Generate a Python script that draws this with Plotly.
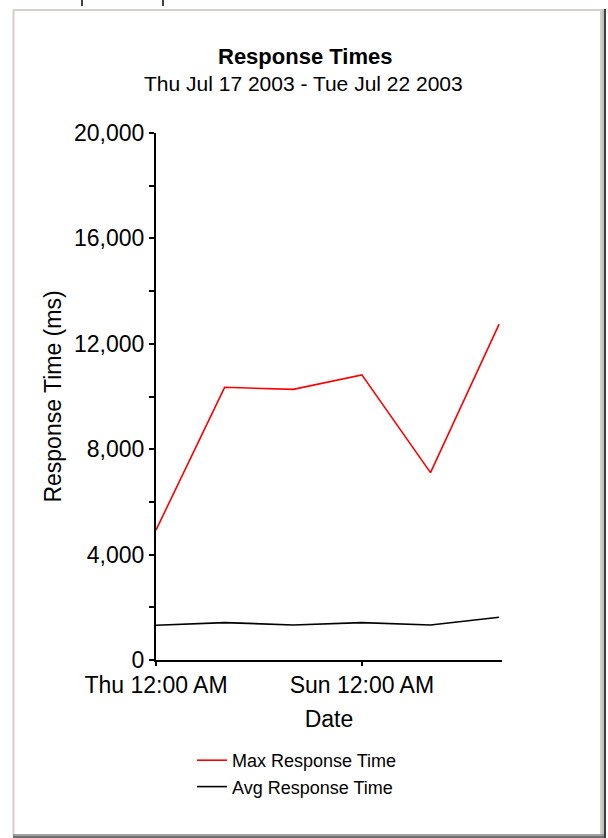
import plotly.graph_objects as go

# ---- data ----
dates = ["2003-07-17", "2003-07-18", "2003-07-19", "2003-07-20", "2003-07-21", "2003-07-22"]
max_response = [4930, 10350, 10270, 10820, 7110, 12750]
avg_response = [1320, 1420, 1330, 1420, 1330, 1620]
x_tickvals = ["2003-07-17", "2003-07-20"]
x_range = ["2003-07-17 00:00", "2003-07-22 01:00"]
y_range = [0, 20000]

title_text = "Response Times"
subtitle_text = "Thu Jul 17 2003 - Tue Jul 22 2003"

W, H = 608, 838
FONT = "Liberation Sans, Arial, sans-serif"


def px(x):
    return x / W


def py(y):
    return 1 - y / H


fig = go.Figure()
fig.add_trace(go.Scatter(x=dates, y=max_response, mode="lines", name="Max Response Time",
                         line=dict(color="#ff0000", width=1.6)))
fig.add_trace(go.Scatter(x=dates, y=avg_response, mode="lines", name="Avg Response Time",
                         line=dict(color="#000000", width=1.6)))

xd = [px(156), px(502)]
yd = [py(660), py(133)]

axis_common = dict(showgrid=False, zeroline=False, automargin=False)

fig.update_layout(
    template="none",
    width=W, height=H,
    margin=dict(l=0, r=0, t=0, b=0),
    paper_bgcolor="white", plot_bgcolor="white",
    font=dict(family=FONT, color="#000000"),
    xaxis=dict(**axis_common, domain=xd, type="date", range=x_range,
               tickvals=x_tickvals, tickformat="%a %I:%M %p",
               showline=True, linecolor="#000000", linewidth=1.5,
               ticks="outside", ticklen=4, tickwidth=1.5, tickcolor="#000000",
               tickfont=dict(size=23, family=FONT, color="#000000"),
               title=dict(text="Date", font=dict(size=23, family=FONT), standoff=14)),
    yaxis=dict(**axis_common, domain=yd, range=y_range, dtick=4000, tickformat=",d",
               showline=True, linecolor="#000000", linewidth=2,
               ticks="outside", ticklen=5, tickwidth=1.5, tickcolor="#000000",
               minor=dict(dtick=2000, ticks="outside", ticklen=5, tickwidth=1.5, tickcolor="#000000"),
               tickfont=dict(size=23, family=FONT, color="#000000"),
               title=dict(text="Response Time (ms)", font=dict(size=23, family=FONT), standoff=6)),
    yaxis2=dict(**axis_common, overlaying="y", anchor="x", range=y_range, dtick=2000,
                showticklabels=False, showline=False,
                ticks="inside", ticklen=5, tickwidth=1.5, tickcolor="#000000"),
    xaxis2=dict(**axis_common, overlaying="x", anchor="y", type="date", range=x_range,
                tickvals=x_tickvals, showticklabels=False, showline=False,
                ticks="inside", ticklen=4, tickwidth=1.5, tickcolor="#000000"),
    legend=dict(x=px(192), y=py(742), xanchor="left", yanchor="top",
                font=dict(size=18, family=FONT, color="#000000"),
                bgcolor="rgba(0,0,0,0)", borderwidth=0),
    showlegend=True,
)

fig.add_annotation(text="<b>" + title_text + "</b>", x=px(305), y=py(56), xref="paper", yref="paper",
                   showarrow=False, xanchor="center", yanchor="middle",
                   font=dict(size=22, family=FONT, color="#000000"))
fig.add_annotation(text=subtitle_text, x=px(303), y=py(84), xref="paper", yref="paper",
                   showarrow=False, xanchor="center", yanchor="middle",
                   font=dict(size=21, family=FONT, color="#000000"))


# panel frame
def line(x0, y0, x1, y1, color, width):
    fig.add_shape(type="line", xref="paper", yref="paper",
                  x0=px(x0), y0=py(y0), x1=px(x1), y1=py(y1),
                  line=dict(color=color, width=width), layer="above")


line(13.5, 10, 13.5, 836, "#d4d0c8", 2)
line(13, 10, 602, 10, "#d4d0c8", 2)
line(601, 10, 601, 834, "#d4d0c8", 2)
line(603, 9, 603, 836, "#808080", 1)
line(605, 9, 605, 838, "#404040", 2)
line(13, 835, 604, 835, "#808080", 1.5)
line(13, 837, 606, 837, "#404040", 1.5)
# tab remnants at top
line(82, 0, 82, 6, "#404040", 2)
line(163, 0, 163, 6, "#404040", 2)

fig.write_html("out.html",
               config={"displayModeBar": False},
               post_script="document.body.style.margin='0';document.body.style.overflow='hidden';")
